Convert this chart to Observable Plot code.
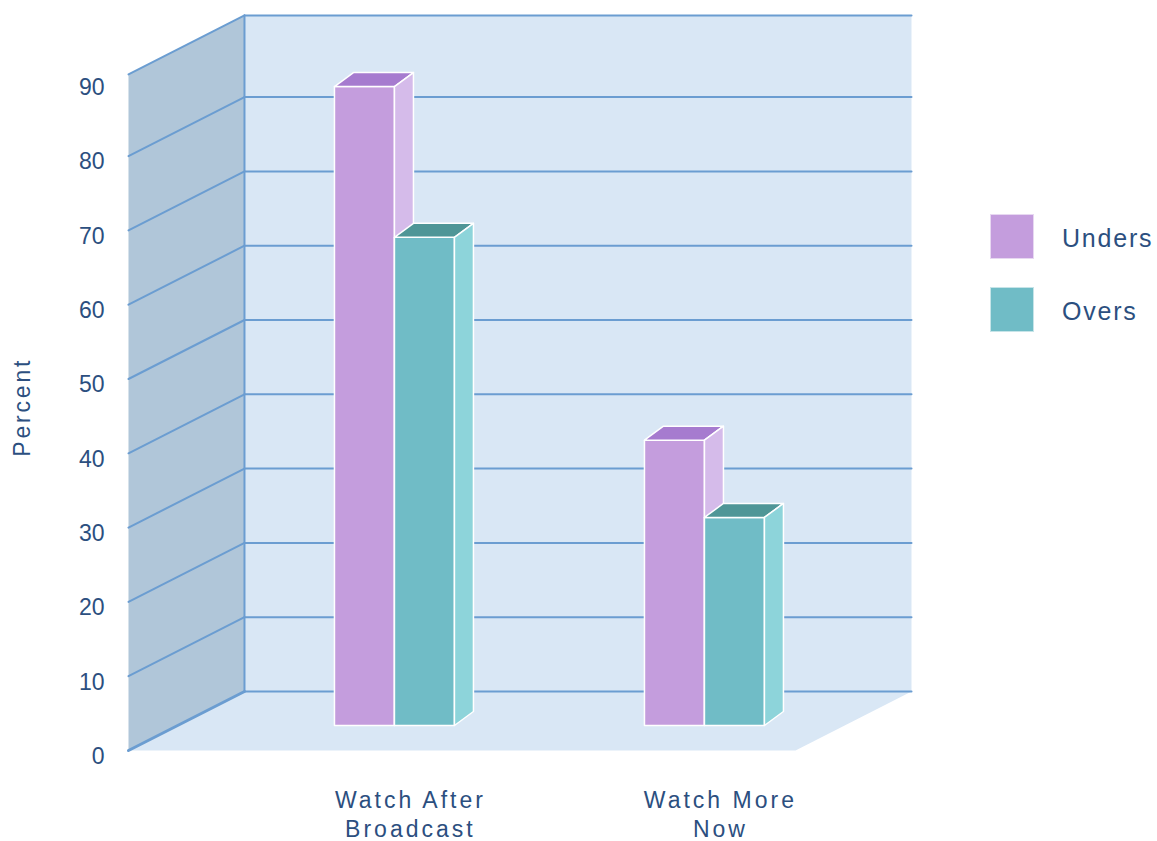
<!DOCTYPE html>
<html>
<head>
<meta charset="utf-8">
<script src="https://cdn.jsdelivr.net/npm/d3@7"></script>
<script src="https://cdn.jsdelivr.net/npm/@observablehq/plot@0.6"></script>
<style>
  html, body { margin: 0; padding: 0; background: #ffffff; }
  #wrap { position: relative; width: 1157px; height: 841px; font-family: "Liberation Sans", Arial, sans-serif; }
  #legend { position: absolute; left: 990px; top: 214px; }
  .item { display: flex; align-items: center; height: 45px; margin-bottom: 28px; }
  .sw { width: 44px; height: 45px; box-sizing: border-box; border: 1px solid rgba(255,255,255,0.6); }
  .lab { margin-left: 28px; margin-top: 4px; font-size: 25px; letter-spacing: 1.8px; color: #2c4f7f; }
</style>
</head>
<body>
<div id="wrap"></div>
<script>
// ---- data ----
const categories = ["Watch After\nBroadcast", "Watch More\nNow"];
const seriesNames = ["Unders", "Overs"];
const unders = [86, 38.4];
const overs = [65.7, 28];
const yTicks = [0, 10, 20, 30, 40, 50, 60, 70, 80, 90];
const gridValues = [0, 10, 20, 30, 40, 50, 60, 70, 80];

// ---- styling / 3D layout constants ----
const frontColors = ["#c49ddd", "#70bcc6"];
const topColors = ["#a67bcf", "#4f9697"];
const sideColors = ["#d5bbea", "#8dd4da"];
const legendColors = ["#c49ddd", "#70bcc6"];
const wallBack = "#d9e7f5", wallLeft = "#b0c6d9", floorColor = "#d9e7f5";
const gridColor = "#6b9dd1", textColor = "#2c4f7f";

const DX = 0.3742, DV = 7.94;      // full wall depth (x units, value units)
const XL = -0.6994, XR = 1.4523;   // floor extent along x at the front
const VTOP = 91;                   // wall top
const BZ = 0.4237;                 // depth of bar front plane
const BW = 0.1935;                 // bar width
const BDX = 0.0613, BDV = 1.884;   // bar depth

const P = (X, V, Z = 0) => [X + Z * DX, V + Z * DV];

// walls
const polys = [];
polys.push({id: "back", fill: wallBack, pts: [P(XL, 0, 1), P(XR, 0, 1), P(XR, VTOP, 1), P(XL, VTOP, 1)]});
polys.push({id: "left", fill: wallLeft, pts: [P(XL, 0, 0), P(XL, 0, 1), P(XL, VTOP, 1), P(XL, VTOP, 0)]});
polys.push({id: "floor", fill: floorColor, pts: [P(XL, 0, 0), P(XL, 0, 1), P(XR, 0, 1), P(XR, 0, 0)]});

// grid lines
const lines = [];
for (const v of [...gridValues, VTOP]) {
  lines.push({id: "b" + v, w: 2, pts: [P(XL, v, 1), P(XR, v, 1)]});
  lines.push({id: "l" + v, w: v === 0 ? 3 : 2, pts: [P(XL, v, 0), P(XL, v, 1)]});
}
lines.push({id: "edge", w: 2, pts: [P(XL, 0, 1), P(XL, VTOP, 1)]});

// bars
const bars = [];
categories.forEach((c, ci) => {
  [unders[ci], overs[ci]].forEach((v, si) => {
    const x0 = ci + (si - 1) * BW, x1 = x0 + BW;
    const f = (X, V) => P(X, V, BZ);
    const a = f(x0, 0), b = f(x1, 0), cc = f(x1, v), d = f(x0, v);
    const sh = p => [p[0] + BDX, p[1] + BDV];
    bars.push({id: `f${ci}${si}`, fill: frontColors[si], pts: [a, b, cc, d]});
    bars.push({id: `t${ci}${si}`, fill: topColors[si], pts: [d, cc, sh(cc), sh(d)]});
    bars.push({id: `s${ci}${si}`, fill: sideColors[si], pts: [b, sh(b), sh(cc), cc]});
  });
});

const flat = arr => arr.flatMap(o => o.pts.map(p => ({id: o.id, fill: o.fill, w: o.w, x: p[0], y: p[1]})));
const wallRows = flat(polys), barRows = flat(bars);
const gridRows = flat(lines);

const labels = categories.map((c, i) => ({label: c, x: i + 0.21}));

const chart = Plot.plot({
  width: 1157,
  height: 841,
  x: {domain: [-1, 2], range: [34.8, 964.8], axis: null},
  y: {domain: [0, 100], range: [750, 7], axis: null},
  color: {type: "identity"},
  style: {fontFamily: "Liberation Sans, Arial, sans-serif", background: "white"},
  marks: [
    Plot.line(wallRows, {x: "x", y: "y", z: "id", fill: "fill", stroke: "none", curve: "linear-closed"}),
    Plot.line(gridRows.filter(d => d.w === 2), {x: "x", y: "y", z: "id", stroke: gridColor, strokeWidth: 2}),
    Plot.line(gridRows.filter(d => d.w === 3), {x: "x", y: "y", z: "id", stroke: gridColor, strokeWidth: 3}),
    Plot.line(barRows, {x: "x", y: "y", z: "id", fill: "fill", stroke: "white", strokeWidth: 1.5, strokeLinejoin: "round", curve: "linear-closed"}),
    Plot.text(yTicks, {x: -0.7768, y: d => d, text: d => String(d), textAnchor: "end", dy: 6, fontSize: 23, fill: textColor}),
    Plot.text(labels, {x: "x", y: -8.4, text: "label", fontSize: 23, lineHeight: 1.3, fill: textColor}),
    Plot.text(["Percent"], {x: -1.0413, y: 46.2, text: d => d, rotate: -90, fontSize: 23, fill: textColor})
  ]
});
// letter spacing for the category and axis-title text
chart.querySelectorAll("text").forEach(t => {
  if (/Watch|Broadcast|Now/.test(t.textContent)) t.setAttribute("letter-spacing", "3px");
  if (/Percent/.test(t.textContent)) t.setAttribute("letter-spacing", "2.8px");
});
const wrap = document.getElementById("wrap");
wrap.appendChild(chart);

const legend = document.createElement("div");
legend.id = "legend";
seriesNames.forEach((s, i) => {
  const it = document.createElement("div");
  it.className = "item";
  it.innerHTML = `<div class="sw" style="background:${legendColors[i]}"></div><div class="lab">${s}</div>`;
  legend.appendChild(it);
});
wrap.appendChild(legend);
</script>
</body>
</html>
